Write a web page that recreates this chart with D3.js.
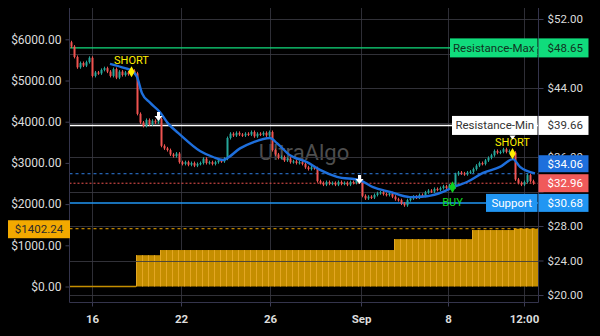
<!DOCTYPE html>
<html><head><meta charset="utf-8">
<script src="https://cdn.jsdelivr.net/npm/d3@7/dist/d3.min.js"></script>
<style>
body{margin:0;background:#000;}
svg{display:block;font-family:Roboto,"Liberation Sans",sans-serif;}
</style>
</head><body>
<svg id="chart" width="600" height="336"></svg>
<script>
// ---- data ----
const firstOpen = 49.3;
const closes = [
48.8,47.6,46.4,46.9,46.6,47.0,47.5,45.4,45.8,45.7,
46.1,46.3,45.9,45.4,46.2,45.2,45.9,45.5,45.8,45.6,
46.0,45.7,41.0,40.0,39.6,40.3,39.8,40.2,40.0,40.4,
37.3,37.0,36.8,36.3,36.1,36.4,35.4,35.2,35.4,35.1,
35.3,35.0,35.2,35.3,35.8,35.3,35.4,35.2,35.4,35.6,
35.5,35.8,38.2,38.7,38.5,38.8,38.6,38.5,38.7,38.6,
38.9,38.4,38.7,38.6,38.8,38.5,38.9,36.8,36.3,35.9,
36.0,35.6,35.8,35.4,35.5,35.3,35.4,35.2,34.8,34.6,
34.8,34.7,33.2,33.0,32.8,33.1,32.9,33.0,32.8,33.1,
32.9,33.0,32.8,33.1,33.0,33.3,33.1,31.5,31.2,31.4,
31.3,31.6,31.8,31.9,31.7,31.6,31.8,31.4,31.1,31.0,
30.6,30.4,31.0,31.2,31.4,31.3,31.6,31.5,31.9,32.1,
32.0,32.3,32.2,32.4,32.6,32.4,32.7,32.5,34.0,34.2,
34.1,34.0,34.2,34.3,34.6,35.0,35.3,35.2,35.6,35.9,
36.2,36.7,36.5,36.6,36.9,36.6,36.7,36.5,33.4,33.0,
32.8,33.1,33.9,33.2,32.96
];
// moving average read at [bar index, value]
const maPoints = [
[12.83,46.8],[17.83,46.3],[20.17,46.0],[21.83,45.3],[23.5,43.4],[26.17,42.3],
[29.5,41.2],[32.17,39.9],[36.17,38.6],[42.83,36.7],[47.17,36.0],[50.5,35.65],
[51.83,35.85],[56.17,37.0],[60.5,37.7],[66.17,38.2],[68.5,37.6],[72.83,36.2],
[78.5,35.4],[82.83,34.5],[88.5,33.7],[96.17,33.3],[100.5,32.5],[106.17,31.95],
[112.83,31.35],[118.5,31.45],[123.83,31.95],[127.17,32.5],[131.83,33.1],
[137.17,34.15],[142.83,34.85],[147.17,35.75],[149.5,34.85],[154.5,34.1]
];
// left-scale histogram: [start bar index, value]
const volSteps = [[0,0],[22,760],[30,885],[108,1150],[134,1370],[148,1402.24]];
const volBarSpan = 2;
const leftTicks = [0,1000,2000,3000,4000,5000,6000];
const rightTicks = [20,24,28,32,36,40,44,48,52];
const rightTickLabelsShown = [20,24,28,36,44,52];
const xTickIdx = [7.33,37,66.67,97,126,151.33];
const xTickLabels = ["16","22","26","Sep","8","12:00"];
const resistanceMax = 48.65, resistanceMin = 39.66, support = 30.68;
const lastPrice = 32.96, maLast = 34.06, volLast = 1402.24;
const signals = [
  {i:20, type:"SHORT"},{i:29, type:"EXIT"},{i:96, type:"EXIT"},
  {i:127, type:"BUY"},{i:147, type:"SHORT"}
];

// ---- drawing ----
const N = closes.length;
const svg = d3.select("#chart");
const L = 69.5, R = 538.5, T = 8, B = 302.5;
const x = d3.scaleLinear().domain([0, N]).range([70, 535]);
const yR = d3.scaleLinear().domain([20, 52]).range([295, 19]);
const yL = d3.scaleLinear().domain([0, 6000]).range([286.5, 39.3]);

svg.append("rect").attr("width",600).attr("height",336).attr("fill","#000");

// vertical grid
svg.append("g").selectAll("line").data(xTickIdx).join("line")
  .attr("x1",d=>Math.round(x(d))+0.5).attr("x2",d=>Math.round(x(d))+0.5)
  .attr("y1",T).attr("y2",B).attr("stroke","#2e2e36").attr("stroke-width",1);

// watermark
svg.append("text").attr("x",304).attr("y",160).attr("text-anchor","middle")
  .attr("font-size",22).attr("fill","#4e4e4e").text("UltraAlgo");

// histogram on left scale
const stepVal = k => { let v = 0; volSteps.forEach(s => { if (k >= s[0]) v = s[1]; }); return v; };
const bars = [];
for (let k = volSteps[1][0]; k < N; k += volBarSpan) bars.push({k, v: stepVal(k)});
const hg = svg.append("g");
hg.selectAll("rect").data(bars).join("rect")
  .attr("x",d=>x(d.k)).attr("width",d=>x(Math.min(N+1,d.k+volBarSpan))-x(d.k))
  .attr("y",d=>yL(d.v)).attr("height",d=>yL(0)-yL(d.v)).attr("fill","#c58e00");
hg.selectAll("line").data(bars).join("line")
  .attr("x1",d=>x(d.k)+0.5).attr("x2",d=>x(d.k)+0.5)
  .attr("y1",d=>yL(d.v)).attr("y2",yL(0)).attr("stroke","#e3a623").attr("stroke-width",1);
svg.append("line").attr("x1",x(0)).attr("x2",x(volSteps[1][0])).attr("y1",yL(0)).attr("y2",yL(0))
  .attr("stroke","#c58e00").attr("stroke-width",1.5);

// horizontal grid
svg.append("g").selectAll("line").data(rightTicks).join("line")
  .attr("x1",L).attr("x2",R).attr("y1",d=>Math.round(yR(d))+0.5).attr("y2",d=>Math.round(yR(d))+0.5)
  .attr("stroke","#3a3a42").attr("stroke-opacity",0.85).attr("stroke-width",1);

// level lines
const hline = (y, color, w, dash) => svg.append("line").attr("x1",L).attr("x2",R)
  .attr("y1",y).attr("y2",y).attr("stroke",color).attr("stroke-width",w)
  .attr("stroke-dasharray",dash||null);
hline(yL(volLast), "#f0a800", 1, "3,3");
hline(yR(resistanceMax), "#10dc7c", 1.2);
hline(yR(resistanceMin), "#ffffff", 1.6);
hline(yR(support), "#2196f3", 1.5);
hline(yR(maLast), "#2f7de1", 1, "3,3");
hline(yR(lastPrice), "#ef5350", 1, "2,2");

// candles
const candles = closes.map((c,i)=>({i, o: i===0?firstOpen:closes[i-1], c}));
const cg = svg.append("g");
cg.selectAll("line").data(candles).join("line")
  .attr("x1",d=>x(d.i+0.5)).attr("x2",d=>x(d.i+0.5))
  .attr("y1",d=>yR(Math.max(d.o,d.c))-1.5).attr("y2",d=>yR(Math.min(d.o,d.c))+1.5)
  .attr("stroke",d=>d.c>=d.o?"#26a69a":"#ef5350").attr("stroke-width",1);
cg.selectAll("rect").data(candles).join("rect")
  .attr("x",d=>x(d.i)+0.5).attr("width",2)
  .attr("y",d=>yR(Math.max(d.o,d.c)))
  .attr("height",d=>Math.max(1.2, Math.abs(yR(d.o)-yR(d.c))))
  .attr("fill",d=>d.c>=d.o?"#26a69a":"#ef5350");

// moving average
svg.append("path").datum(maPoints)
  .attr("d", d3.line().x(d=>x(d[0]+0.5)).y(d=>yR(d[1])).curve(d3.curveMonotoneX))
  .attr("fill","none").attr("stroke","#1e6fdc").attr("stroke-width",2.4);

// signals
const sg = svg.append("g");
signals.forEach(s => {
  const cx = x(s.i+0.5), cy = yR(closes[s.i]);
  if (s.type === "SHORT") {
    sg.append("path").attr("transform",`translate(${cx},${cy+1})`)
      .attr("d", d3.symbol(d3.symbolDiamond, 36)()).attr("fill","#ffee00");
    sg.append("text").attr("x",cx).attr("y",cy-7).attr("text-anchor","middle")
      .attr("font-size",11).attr("fill","#ffee00").text("SHORT");
  } else if (s.type === "BUY") {
    sg.append("path").attr("transform",`translate(${cx},${cy})`)
      .attr("d", d3.symbol(d3.symbolDiamond, 40)()).attr("fill","#10d020");
    sg.append("text").attr("x",cx).attr("y",cy+19).attr("text-anchor","middle")
      .attr("font-size",11).attr("fill","#10e020").text("BUY");
  } else {
    sg.append("path").attr("transform",`translate(${cx},${cy-2})`)
      .attr("d","M-1.5,-5 L1.5,-5 L1.5,-1 L4,-1 L0,4 L-4,-1 L-1.5,-1 Z").attr("fill","#ffffff");
  }
});

// axes
const axL = svg.append("g").attr("transform",`translate(${L},0)`)
  .call(d3.axisLeft(yL).tickValues(leftTicks).tickSize(4).tickPadding(4)
    .tickFormat(d=>"$"+d.toFixed(2)));
const axR = svg.append("g").attr("transform",`translate(${R},0)`)
  .call(d3.axisRight(yR).tickValues(rightTicks).tickSize(5).tickPadding(4)
    .tickFormat(d=>rightTickLabelsShown.includes(d) ? "$"+d.toFixed(2) : ""));
const axB = svg.append("g").attr("transform",`translate(0,${B})`)
  .call(d3.axisBottom(x).tickValues(xTickIdx).tickSize(4).tickPadding(8)
    .tickFormat((d,i)=>xTickLabels[i]));
[axL,axR,axB].forEach(a=>{
  a.select(".domain").remove();
  a.selectAll(".tick line").attr("stroke","#3c3c55");
  a.selectAll("text").attr("fill","#dcdcdc").attr("font-size",11.5).attr("font-family","Roboto,sans-serif");
});
axB.selectAll("text").attr("font-weight","bold").attr("font-size",11.5);
axL.selectAll("text").attr("font-size",12);
// frame lines
svg.append("line").attr("x1",L).attr("x2",L).attr("y1",T).attr("y2",B).attr("stroke","#34344c");
svg.append("line").attr("x1",R).attr("x2",R).attr("y1",T).attr("y2",B).attr("stroke","#34344c");
svg.append("line").attr("x1",L).attr("x2",R).attr("y1",B).attr("y2",B).attr("stroke","#34344c");

// label boxes
const box = (x0, w, cy, h, bg, fg, txt, anchor) => {
  svg.append("rect").attr("x",x0).attr("y",cy-h/2).attr("width",w).attr("height",h).attr("fill",bg);
  svg.append("text").attr("x", anchor==="start"? x0+9 : x0+w/2).attr("y",cy+4)
    .attr("text-anchor", anchor||"middle").attr("font-size",11.5).attr("fill",fg).text(txt);
};
box(450, 87.5, yR(resistanceMax), 19, "#10dc7c", "#10331f", "Resistance-Max");
box(538.5, 50, yR(resistanceMax), 19, "#10dc7c", "#10331f", "$"+resistanceMax.toFixed(2), "start");
box(452, 85.5, yR(resistanceMin), 19, "#ffffff", "#333333", "Resistance-Min");
box(538.5, 50, yR(resistanceMin), 19, "#ffffff", "#333333", "$"+resistanceMin.toFixed(2), "start");
box(538.5, 50, yR(maLast)-10, 17, "#1e6fdc", "#ffffff", "$"+maLast.toFixed(2), "start");
box(538.5, 50, yR(lastPrice), 18, "#f05a5a", "#ffffff", "$"+lastPrice.toFixed(2), "start");
box(486, 51.5, yR(support), 18, "#2196f3", "#ffffff", "Support");
box(538.5, 50, yR(support), 18, "#2196f3", "#ffffff", "$"+support.toFixed(2), "start");
box(8, 62, yL(volLast)+0.5, 18, "#f2a900", "#2a2a2a", "$"+volLast.toFixed(2));
// small pointer above second short
svg.append("path").attr("transform",`translate(${x(signals[4].i+0.5)},${yR(resistanceMin)+10})`)
  .attr("d","M-3,0 L3,0 L0,4 Z").attr("fill","#ffffff");
</script>
</body></html>
